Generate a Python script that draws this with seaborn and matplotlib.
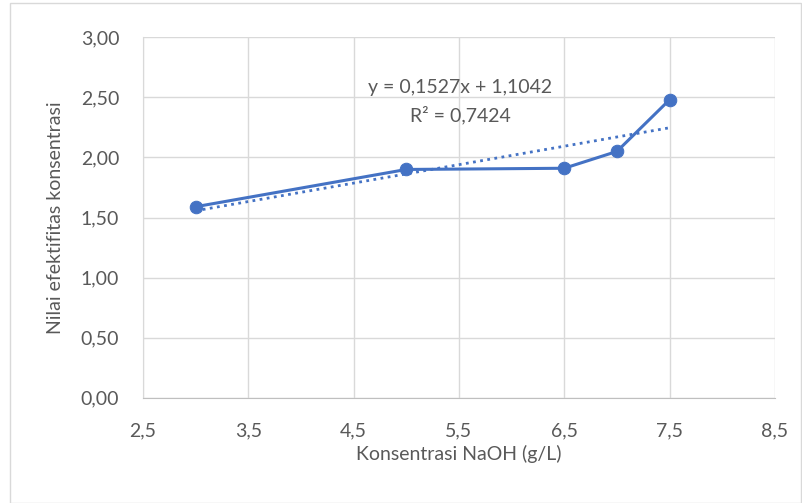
import pandas as pd
import matplotlib.pyplot as plt
import seaborn as sns
from matplotlib.ticker import FuncFormatter, MultipleLocator

konsentrasi = [3.0, 5.0, 6.5, 7.0, 7.5]
efektifitas = [1.59, 1.90, 1.91, 2.05, 2.48]
x_ticks = [2.5, 3.5, 4.5, 5.5, 6.5, 7.5, 8.5]
persamaan = 'y = 0,1527x + 1,1042'
r_kuadrat = 'R² = 0,7424'

df = pd.DataFrame({'x': konsentrasi, 'y': efektifitas})

sns.set_style('white')
plt.rcParams['font.family'] = ['Lato', 'DejaVu Sans']
blue = '#4472C4'
grey = '#595959'
fs = 14

fig = plt.figure(figsize=(8.03, 5.03), dpi=100)
ax = fig.add_axes([0.178, 0.209, 0.787, 0.717])

sns.lineplot(data=df, x='x', y='y', ax=ax, color=blue, linewidth=2.2,
             marker='o', markersize=9, markeredgecolor=blue)
sns.regplot(data=df, x='x', y='y', ax=ax, scatter=False, ci=None, color=blue,
            line_kws={'linestyle': (0, (1, 1.6)), 'linewidth': 2})

ax.set_xlim(2.5, 8.5)
ax.set_ylim(0, 3)
ax.set_xticks(x_ticks)
ax.yaxis.set_major_locator(MultipleLocator(0.5))
ax.xaxis.set_major_formatter(FuncFormatter(lambda v, p: f'{v:.1f}'.replace('.', ',')))
ax.yaxis.set_major_formatter(FuncFormatter(lambda v, p: f'{v:.2f}'.replace('.', ',')))
ax.grid(True, color='#D9D9D9', linewidth=1)
ax.set_axisbelow(True)
for s in ['top', 'right']:
    ax.spines[s].set_visible(False)
ax.spines['left'].set_color('#D9D9D9')
ax.spines['bottom'].set_color('#BFBFBF')
ax.tick_params(axis='both', length=0, labelsize=fs, colors=grey)
ax.tick_params(axis='x', pad=18)
ax.tick_params(axis='y', pad=17)

ax.set_xlabel('Konsentrasi NaOH (g/L)', fontsize=fs, color=grey)
ax.set_ylabel('Nilai efektifitas konsentrasi', fontsize=fs, color=grey)
ax.xaxis.set_label_coords(0.5, -0.13)
ax.yaxis.set_label_coords(-0.125, 0.5)

ax.text(5.51, 2.585, persamaan, ha='center', va='center', fontsize=fs, color=grey)
ax.text(5.51, 2.35, r_kuadrat, ha='center', va='center', fontsize=fs, color=grey)

fig.patches.append(plt.Rectangle((0.012, 0.0), 0.985, 0.995, transform=fig.transFigure,
                                 fill=False, edgecolor='#D9D9D9', linewidth=1))

plt.savefig('out.png', dpi=100)
